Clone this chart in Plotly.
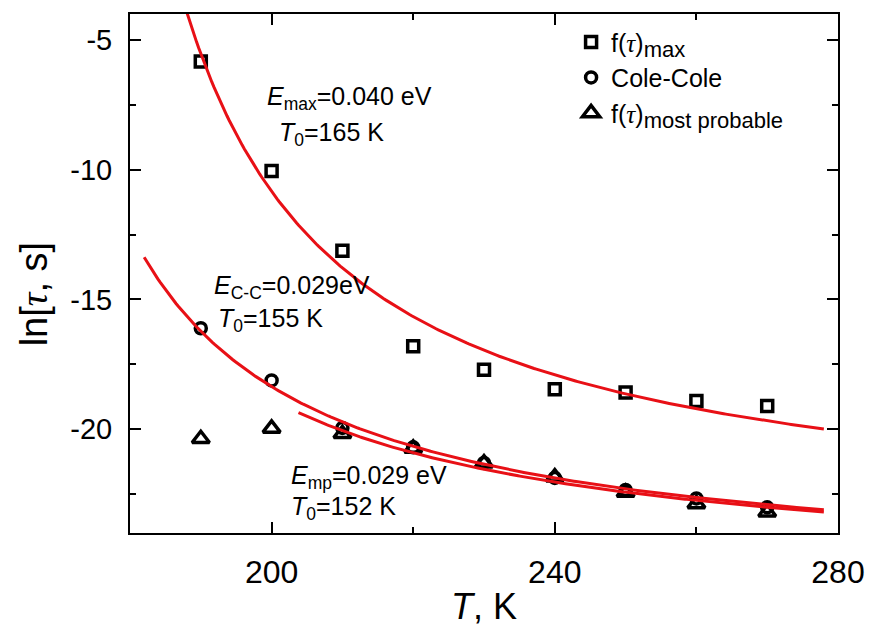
import numpy as np
import plotly.graph_objects as go

# Measured relaxation times, ln(tau / s), versus temperature
T = [190, 200, 210, 220, 230, 240, 250, 260, 270]
ln_tau_max = [-5.83, -10.05, -13.12, -16.80, -17.71, -18.46, -18.59, -18.91, -19.11]
ln_tau_cole = [-16.11, -18.12, -19.95, -20.70, -21.30, -21.88, -22.34, -22.67, -23.01]
ln_tau_mp = [-20.37, -19.97, -20.18, -20.74, -21.31, -21.85, -22.44, -22.88, -23.20]

# Vogel-Fulcher-Tammann fits: ln(tau) = ln(tau0) + E / (k (T - T0))
K_B = 8.617e-5  # eV/K
fit_E = [0.040, 0.029, 0.029]        # eV
fit_T0 = [165, 155, 152]             # K
fit_ln_tau0 = [-24.1, -25.84, -25.86]
fit_T_start = [186, 182, 203.8]
fit_T_end = [278, 278, 278]

x_tick_vals = [200, 240, 280]
x_tick_text = ["200", "240", "280"]
y_tick_vals = [-5, -10, -15, -20]
y_tick_text = ["-5", "-10", "-15", "-20"]

RED = "rgb(232,16,22)"
FONT = "Liberation Sans, Arial, sans-serif"
TAU = "<span style='font-family:Liberation Serif, serif'><i>τ</i></span>"


def legend_sub(text):
    return f"<sub><span style='font-size:22px'>{text}</span></sub>"


fig = go.Figure()

marker_line = dict(color="black", width=3.5)
fig.add_trace(go.Scatter(
    x=T, y=ln_tau_max, mode="markers", name=f"f({TAU}){legend_sub('max')}",
    marker=dict(symbol="square-open", size=11, color="black", line=marker_line),
))
fig.add_trace(go.Scatter(
    x=T, y=ln_tau_cole, mode="markers", name="Cole-Cole",
    marker=dict(symbol="circle-open", size=11, color="black", line=marker_line),
))
fig.add_trace(go.Scatter(
    x=T, y=ln_tau_mp, mode="markers", name=f"f({TAU}){legend_sub('most probable')}",
    marker=dict(symbol="triangle-up-open", size=15, color="black", line=marker_line),
))

for E, T0, a, t1, t2 in zip(fit_E, fit_T0, fit_ln_tau0, fit_T_start, fit_T_end):
    tt = np.linspace(t1, t2, 300)
    fig.add_trace(go.Scatter(
        x=tt, y=a + E / (K_B * (tt - T0)), mode="lines",
        line=dict(color=RED, width=3), showlegend=False, hoverinfo="skip",
    ))

# Fit parameter labels
labels = [
    (199.1, -7.25, "<i>E</i><sub>max</sub>=0.040 eV"),
    (200.8, -8.64, "<i>T</i><sub>0</sub>=165 K"),
    (191.6, -14.53, "<i>E</i><sub>C-C</sub>=0.029eV"),
    (192.15, -15.80, "<i>T</i><sub>0</sub>=155 K"),
    (202.4, -21.84, "<i>E</i><sub>mp</sub>=0.029 eV"),
    (202.5, -23.02, "<i>T</i><sub>0</sub>=152 K"),
]
for x, y, txt in labels:
    fig.add_annotation(x=x, y=y, text=txt, showarrow=False, xanchor="left",
                       yanchor="middle", font=dict(size=25, color="black", family=FONT))

axis_common = dict(
    showline=True, linewidth=2, linecolor="black", mirror="ticks",
    ticks="inside", ticklen=11, tickwidth=2, tickcolor="black",
    showgrid=False, zeroline=False,
)
fig.update_xaxes(
    range=[180, 280], tickvals=x_tick_vals, ticktext=x_tick_text,
    minor=dict(ticks="inside", ticklen=6, tickwidth=2, tickcolor="black", dtick=20, tick0=180),
    tickfont=dict(size=32, color="black", family=FONT), ticklabelstandoff=10,
    title=dict(text="<i>T</i>, K", font=dict(size=36, color="black", family=FONT), standoff=4),
    **axis_common,
)
fig.update_yaxes(
    range=[-24, -4], tickvals=y_tick_vals, ticktext=y_tick_text,
    minor=dict(ticks="inside", ticklen=6, tickwidth=2, tickcolor="black", dtick=2.5, tick0=0),
    tickfont=dict(size=29, color="black", family=FONT), ticklabelstandoff=10,
    **axis_common,
)
fig.add_annotation(
    xref="paper", yref="paper", x=-0.1355, y=0.46, text=f"ln[{TAU}, s]",
    textangle=-90, showarrow=False, xanchor="center", yanchor="middle",
    font=dict(size=38, color="black", family=FONT),
)

fig.update_layout(
    width=877, height=632,
    margin=dict(l=130, r=31, t=14, b=88),
    paper_bgcolor="white", plot_bgcolor="white",
    font=dict(family=FONT, color="black"),
    legend=dict(x=0.623, y=0.99, xanchor="left", yanchor="top",
                bgcolor="rgba(0,0,0,0)", font=dict(size=25, color="black", family=FONT),
                itemwidth=30, tracegroupgap=0),
)

fig.write_html("out.html")
